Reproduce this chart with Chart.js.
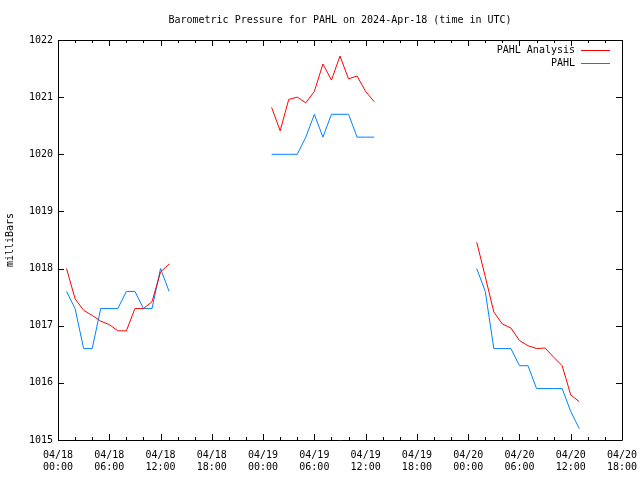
<!DOCTYPE html>
<html>
<head>
<meta charset="utf-8">
<script src="https://cdn.jsdelivr.net/npm/chart.js@4"></script>
<style>
  html, body { margin: 0; padding: 0; background: #fff; }
  #wrap { width: 640px; height: 480px; }
</style>
</head>
<body>
<div id="wrap"><canvas id="pressureChart"></canvas></div>
<script>
// Hours since 04/18 00:00 UTC
const hours = [
    1, 2, 3, 4, 5, 6, 7, 8, 9, 10, 11, 12, 13,
    25, 26, 27, 28, 29, 30, 31, 32, 33, 34, 35, 36, 37,
    49, 50, 51, 52, 53, 54, 55, 56, 57, 58, 59, 60, 61
];

// PAHL Analysis (mb)
const analysis = [
    1018.00, 1017.47, 1017.27, 1017.18, 1017.08, 1017.02, 1016.91, 1016.91, 1017.30, 1017.30, 1017.42, 1017.94, 1018.08,
    1020.82, 1020.41, 1020.96, 1021.00, 1020.90, 1021.10, 1021.58, 1021.30, 1021.72, 1021.32, 1021.37, 1021.10, 1020.92,
    1018.46, 1017.86, 1017.24, 1017.03, 1016.96, 1016.74, 1016.65, 1016.60, 1016.61, 1016.45, 1016.30, 1015.79, 1015.67
];

// PAHL observed (mb)
const observed = [
    1017.6, 1017.3, 1016.6, 1016.6, 1017.3, 1017.3, 1017.3, 1017.6, 1017.6, 1017.3, 1017.3, 1018.0, 1017.6,
    1020.0, 1020.0, 1020.0, 1020.0, 1020.3, 1020.7, 1020.3, 1020.7, 1020.7, 1020.7, 1020.3, 1020.3, 1020.3,
    1018.0, 1017.6, 1016.6, 1016.6, 1016.6, 1016.3, 1016.3, 1015.9, 1015.9, 1015.9, 1015.9, 1015.5, 1015.2
];

// x tick labels, one per 6 hours
const tickDates = ['04/18', '04/18', '04/18', '04/18', '04/19', '04/19', '04/19', '04/19', '04/20', '04/20', '04/20', '04/20'];
const tickTimes = ['00:00', '06:00', '12:00', '18:00', '00:00', '06:00', '12:00', '18:00', '00:00', '06:00', '12:00', '18:00'];

const MONO = '"DejaVu Sans Mono", "Liberation Mono", monospace';

// build points, breaking the line where hours jump
function toPoints(values) {
    const pts = [];
    for (let i = 0; i < hours.length; i++) {
        if (i > 0 && hours[i] - hours[i - 1] > 1) {
            pts.push({ x: hours[i - 1] + 1, y: null });
        }
        pts.push({ x: hours[i], y: values[i] });
    }
    return pts;
}

// frame, inward ticks, title and key, gnuplot style
const gnuplotFrame = {
    id: 'gnuplotFrame',
    afterDraw(chart) {
        const c = chart.ctx;
        const a = chart.chartArea;
        const xs = chart.scales.x;
        const ys = chart.scales.y;
        c.save();
        c.strokeStyle = '#000';
        c.lineWidth = 1;
        c.beginPath();
        c.rect(Math.round(a.left) + 0.5, Math.round(a.top) + 0.5,
               Math.round(a.right - a.left), Math.round(a.bottom - a.top));
        c.stroke();

        c.beginPath();
        for (let v = 1015; v <= 1022; v++) {
            const y = Math.round(ys.getPixelForValue(v)) + 0.5;
            c.moveTo(a.left, y); c.lineTo(a.left + 6, y);
            c.moveTo(a.right, y); c.lineTo(a.right - 6, y);
        }
        for (let h = 0; h <= 66; h += 2) {
            const x = Math.round(xs.getPixelForValue(h)) + 0.5;
            const len = h % 6 === 0 ? 6 : 3;
            c.moveTo(x, a.bottom); c.lineTo(x, a.bottom - len);
            c.moveTo(x, a.top); c.lineTo(x, a.top + len);
        }
        c.stroke();

        c.fillStyle = '#000';
        c.font = '10px ' + MONO;
        c.textAlign = 'center';
        c.textBaseline = 'middle';
        c.fillText('Barometric Pressure for PAHL on 2024-Apr-18 (time in UTC)', (a.left + a.right) / 2, 20);

        c.textAlign = 'right';
        chart.data.datasets.forEach((ds, i) => {
            const y = 50 + i * 13;
            c.fillStyle = '#000';
            c.fillText(ds.label, 575, y);
            c.strokeStyle = ds.borderColor;
            c.beginPath();
            c.moveTo(581, Math.round(y) + 0.5);
            c.lineTo(610, Math.round(y) + 0.5);
            c.stroke();
        });
        c.restore();
    }
};

new Chart(document.getElementById('pressureChart'), {
    type: 'line',
    data: {
        datasets: [
            {
                label: 'PAHL Analysis',
                data: toPoints(analysis),
                borderColor: '#ff0000',
                borderWidth: 1,
                pointRadius: 0,
                tension: 0,
                spanGaps: false
            },
            {
                label: 'PAHL',
                data: toPoints(observed),
                borderColor: '#0080ff',
                borderWidth: 1,
                pointRadius: 0,
                tension: 0,
                spanGaps: false
            }
        ]
    },
    options: {
        responsive: true,
        maintainAspectRatio: false,
        animation: false,
        layout: { padding: { top: 40, right: 18, left: 0, bottom: 0 } },
        plugins: {
            legend: { display: false },
            title: { display: false },
            tooltip: { enabled: false }
        },
        scales: {
            x: {
                type: 'linear',
                min: 0,
                max: 66,
                afterFit(s) { s.height = 40; s.paddingLeft = 0; s.paddingRight = 0; },
                grid: { display: false, drawTicks: false },
                border: { display: false },
                ticks: {
                    stepSize: 6,
                    autoSkip: false,
                    maxRotation: 0,
                    padding: 9,
                    color: '#000',
                    font: { family: MONO, size: 10 },
                    callback: v => {
                        const i = v / 6;
                        return Number.isInteger(i) ? [tickDates[i], tickTimes[i]] : '';
                    }
                }
            },
            y: {
                min: 1015,
                max: 1022,
                afterFit(s) { s.width = 58; s.paddingTop = 0; s.paddingBottom = 0; },
                grid: { display: false, drawTicks: false },
                border: { display: false },
                title: {
                    display: true,
                    text: 'milliBars',
                    color: '#000',
                    font: { family: MONO, size: 10 },
                    padding: { top: 4, bottom: 0 }
                },
                ticks: {
                    stepSize: 1,
                    padding: 5,
                    color: '#000',
                    font: { family: MONO, size: 10 },
                    callback: v => String(v)
                }
            }
        }
    },
    plugins: [gnuplotFrame]
});
</script>
</body>
</html>
